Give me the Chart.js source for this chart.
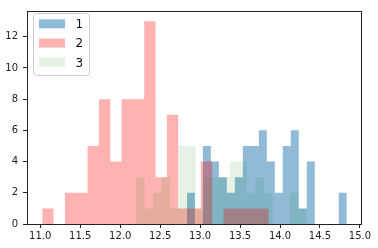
<!DOCTYPE html>
<html>
<head>
<meta charset="utf-8">
<script src="https://cdn.jsdelivr.net/npm/chart.js@4.4.0/dist/chart.umd.min.js"></script>
<style>
  html, body { margin: 0; padding: 0; background: #fff; }
  canvas { display: block; }
</style>
</head>
<body>
<canvas id="chart" width="378" height="248"></canvas>
<script>
// histogram counts, 20 bins each
const seriesLabels = ['1', '2', '3'];
const blueCounts = [2, 0, 5, 4, 3, 2, 3, 5, 5, 6, 4, 2, 5, 6, 1, 4, 0, 0, 0, 2];
const redCounts = [1, 0, 2, 2, 5, 8, 4, 8, 8, 13, 3, 7, 1, 1, 4, 0, 1, 1, 1, 1];
const greenCounts = [3, 1, 2, 3, 1, 5, 5, 1, 3, 3, 3, 4, 4, 2, 3, 2, 0, 0, 2, 1];
// first and last bin edge of each series
const blueRange = [12.835, 14.835];
const redRange = [11.025, 13.86];
const greenRange = [12.196, 14.334];
const xTicks = [11.0, 11.5, 12.0, 12.5, 13.0, 13.5, 14.0, 14.5, 15.0];
const yTicks = [0, 2, 4, 6, 8, 10, 12];

const blueFill = 'rgba(31, 119, 180, 0.5)';
const redFill = 'rgba(255, 0, 0, 0.3)';
const greenFill = 'rgba(0, 128, 0, 0.1)';

// outline of a histogram as a closed polyline (each bin = flat top)
function histPoints(counts, range) {
    const n = counts.length;
    const w = (range[1] - range[0]) / n;
    const pts = [{ x: range[0], y: 0 }];
    counts.forEach((c, i) => {
        pts.push({ x: range[0] + i * w, y: c });
        pts.push({ x: range[0] + (i + 1) * w, y: c });
    });
    pts.push({ x: range[1], y: 0 });
    return pts;
}

// matplotlib-like 5% margins on x, 5% headroom on y
const dataMin = Math.min(blueRange[0], redRange[0], greenRange[0]);
const dataMax = Math.max(blueRange[1], redRange[1], greenRange[1]);
const span = dataMax - dataMin;
const xMin = dataMin - 0.05 * span;
const xMax = dataMax + 0.05 * span;
const yMax = Math.max(...blueCounts, ...redCounts, ...greenCounts) * 1.05;

function makeSet(label, counts, range, color) {
    return {
        label: label,
        data: histPoints(counts, range),
        backgroundColor: color,
        borderColor: 'rgba(0,0,0,0)',
        borderWidth: 0,
        pointRadius: 0,
        tension: 0,
        fill: 'origin'
    };
}

const framePlugin = {
    id: 'frame',
    afterDraw(chart) {
        const a = chart.chartArea;
        const ctx = chart.ctx;
        ctx.save();
        ctx.strokeStyle = '#222';
        ctx.lineWidth = 1;
        ctx.strokeRect(Math.round(a.left) + 0.5, Math.round(a.top) + 0.5,
            Math.round(a.right - a.left) - 1, Math.round(a.bottom - a.top));
        ctx.restore();
    }
};

const legendPlugin = {
    id: 'boxLegend',
    afterDraw(chart) {
        const ctx = chart.ctx;
        const fills = [blueFill, redFill, greenFill];
        const x = 33.5, y = 13.5, w = 56, h = 62, r = 3;
        ctx.save();
        ctx.beginPath();
        ctx.moveTo(x + r, y);
        ctx.arcTo(x + w, y, x + w, y + h, r);
        ctx.arcTo(x + w, y + h, x, y + h, r);
        ctx.arcTo(x, y + h, x, y, r);
        ctx.arcTo(x, y, x + w, y, r);
        ctx.closePath();
        ctx.fillStyle = 'rgba(255,255,255,0.8)';
        ctx.fill();
        ctx.strokeStyle = '#cccccc';
        ctx.lineWidth = 1;
        ctx.stroke();
        ctx.font = '12px "DejaVu Sans"';
        ctx.textBaseline = 'alphabetic';
        ctx.textAlign = 'left';
        seriesLabels.forEach((lab, i) => {
            const top = 19.3 + i * 19.2;
            ctx.fillStyle = fills[i];
            ctx.fillRect(39, top, 26, 9);
            ctx.fillStyle = '#111';
            ctx.fillText(lab, 75.5, top + 8.8);
        });
        ctx.restore();
    }
};

const tickFont = { family: 'DejaVu Sans', size: 10 };

new Chart(document.getElementById('chart'), {
    type: 'line',
    data: {
        // green first so it lands on top, blue at the bottom
        datasets: [
            makeSet(seriesLabels[2], greenCounts, greenRange, greenFill),
            makeSet(seriesLabels[1], redCounts, redRange, redFill),
            makeSet(seriesLabels[0], blueCounts, blueRange, blueFill)
        ]
    },
    options: {
        responsive: false,
        animation: false,
        devicePixelRatio: 1,
        layout: { padding: { top: 6, right: 16, left: 0, bottom: 0 } },
        plugins: { legend: { display: false }, tooltip: { enabled: false } },
        scales: {
            x: {
                type: 'linear',
                min: xMin,
                max: xMax,
                afterBuildTicks: s => { s.ticks = xTicks.map(v => ({ value: v })); },
                afterFit: s => { s.height = 24; },
                ticks: {
                    callback: v => Number(v).toFixed(1),
                    font: tickFont, color: '#222', padding: 2,
                    maxRotation: 0, autoSkip: false
                },
                grid: { drawOnChartArea: false, drawTicks: true, tickLength: 4, color: '#222' },
                border: { display: false }
            },
            y: {
                type: 'linear',
                min: 0,
                max: yMax,
                afterBuildTicks: s => { s.ticks = yTicks.map(v => ({ value: v })); },
                afterFit: s => { s.width = 27; },
                ticks: { font: tickFont, color: '#222', padding: 5, autoSkip: false },
                grid: { drawOnChartArea: false, drawTicks: true, tickLength: 4, color: '#222' },
                border: { display: false }
            }
        }
    },
    plugins: [framePlugin, legendPlugin]
});
</script>
</body>
</html>
